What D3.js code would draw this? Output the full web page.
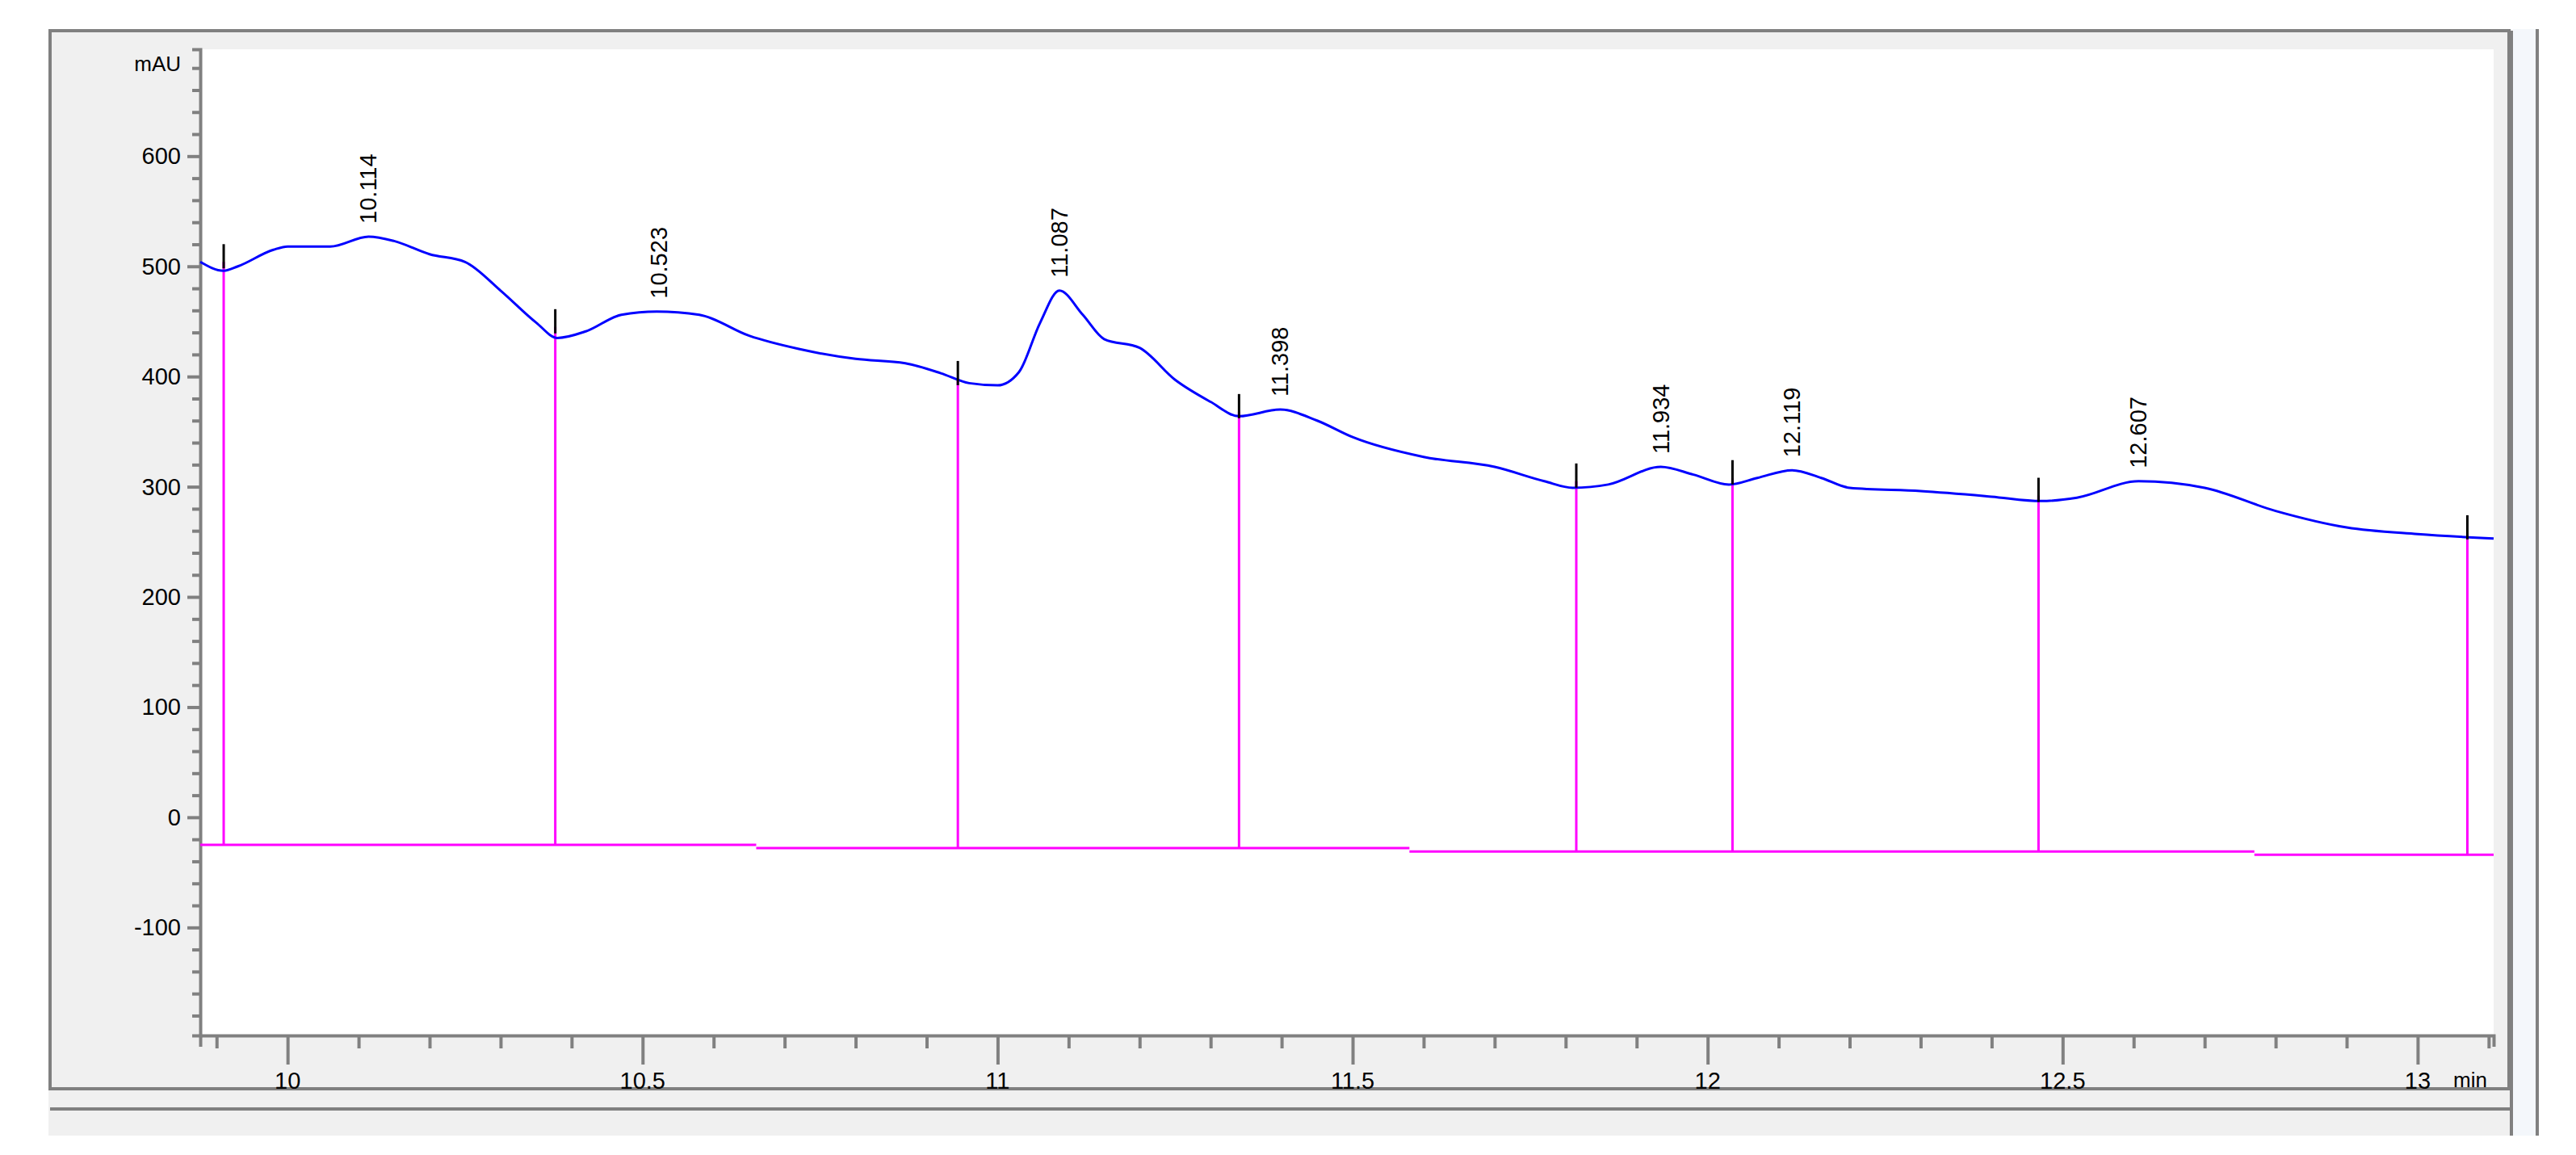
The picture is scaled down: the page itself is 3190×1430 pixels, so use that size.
<!DOCTYPE html>
<html><head><meta charset="utf-8">
<script src="https://cdn.jsdelivr.net/npm/d3@7"></script>
<style>body{margin:0;background:#fff}svg text{font-family:"Liberation Sans",Arial,sans-serif}</style>
</head><body><svg id="chart"></svg>
<script>
// signal trace (min, mAU)
const traceTime = [9.877,9.91,9.93,9.98,10.0,10.06,10.114,10.15,10.2,10.25,10.3,10.35,10.38,10.42,10.47,10.52,10.58,10.65,10.72,10.8,10.87,10.92,10.96,11.0,11.03,11.06,11.087,11.12,11.15,11.2,11.25,11.3,11.34,11.398,11.45,11.5,11.6,11.7,11.77,11.81,11.86,11.934,11.98,12.03,12.07,12.119,12.16,12.2,12.3,12.4,12.47,12.52,12.607,12.7,12.8,12.9,13.0,13.107];
const traceMAU = [504,496,500,515,518,518,527,523,511,504,478,449,435,441,456,459,456,437,425,416,412,403,394,392,404,449,478,456,434,426,397,377,364,370,360,345,327,318,305,299,302,318,311,302,308,315,308,299,296,291,287,290,305,299,278,263,257,253];
const peakLabels = ["10.114","10.523","11.087","11.398","11.934","12.119","12.607"];
const peakTimes = [10.114,10.523,11.087,11.398,11.934,12.119,12.607];
const peakHeights = [527,459,478,370,318,315,305];
// integration boundaries
const dropTimes = [9.91,10.377,10.944,11.34,11.815,12.035,12.466,13.07];
const dropTops = [504,445,398,368,305,308,292,258];
// baseline segments [start, end, mAU]
const baseStart = [9.877,10.66,11.58,12.77];
const baseEnd = [10.66,11.58,12.77,13.107];
const baseLevel = [-25,-28,-31,-34];
const xTicks = [10,10.5,11,11.5,12,12.5,13];
const yTicks = [-100,0,100,200,300,400,500,600];

const W = 3190, H = 1430;
const svg = d3.select('#chart').attr('width', W).attr('height', H);
const L = 248, R = 3088, T = 61, B = 1282;

// window chrome
svg.append('rect').attr('x', 60).attr('y', 36).attr('width', 3050).attr('height', 1370).attr('fill', '#f0f0f0');
svg.append('rect').attr('x', 62).attr('y', 38).attr('width', 3045).attr('height', 1310).attr('fill', 'none').attr('stroke', '#808080').attr('stroke-width', 4);
svg.append('line').attr('x1', 62).attr('x2', 3110).attr('y1', 1373).attr('y2', 1373).attr('stroke', '#808080').attr('stroke-width', 4);
svg.append('line').attr('x1', 3110).attr('x2', 3110).attr('y1', 38).attr('y2', 1406).attr('stroke', '#808080').attr('stroke-width', 4);
svg.append('rect').attr('x', 3112).attr('y', 36).attr('width', 28).attr('height', 1370).attr('fill', '#f4f7fb');
svg.append('line').attr('x1', 3142).attr('x2', 3142).attr('y1', 36).attr('y2', 1406).attr('stroke', '#808080').attr('stroke-width', 4);
svg.append('rect').attr('x', L).attr('y', T).attr('width', R - L).attr('height', B - T).attr('fill', '#fff');

const x = d3.scaleLinear().domain([9.877, 13.107]).range([L, R]);
const y = d3.scaleLinear().domain([-198, 697]).range([B, T]);

// y axis
const yAxis = svg.append('g').attr('transform', `translate(${L},0)`)
  .call(d3.axisLeft(y).tickValues(d3.range(-180, 700, 20)).tickSize(10).tickFormat(''));
yAxis.selectAll('line').attr('stroke', '#808080').attr('stroke-width', 4)
  .attr('x2', d => yTicks.includes(Math.round(d)) ? -16 : -10);
yAxis.select('.domain').attr('stroke', '#808080').attr('stroke-width', 4);
svg.append('g').selectAll('text').data(yTicks).join('text')
  .attr('x', L - 24).attr('y', d => y(d) + 10).attr('text-anchor', 'end')
  .attr('font-size', 29).attr('fill', '#000').text(d => d);
svg.append('text').attr('x', L - 24).attr('y', 88).attr('text-anchor', 'end').attr('font-size', 26).text('mAU');

// x axis
const xAxis = svg.append('g').attr('transform', `translate(0,${B})`)
  .call(d3.axisBottom(x).tickValues(d3.range(9.9, 13.11, 0.1)).tickSize(14).tickFormat(''));
xAxis.selectAll('line').attr('stroke', '#808080').attr('stroke-width', 4)
  .attr('y2', d => xTicks.some(t => Math.abs(t - d) < 1e-6) ? 36 : 16);
xAxis.select('.domain').attr('stroke', '#808080').attr('stroke-width', 4);
svg.append('g').selectAll('text').data(xTicks).join('text')
  .attr('x', d => x(d)).attr('y', B + 66).attr('text-anchor', 'middle')
  .attr('font-size', 29).text(d => d);
svg.append('text').attr('x', R - 8).attr('y', B + 64).attr('text-anchor', 'end').attr('font-size', 26).text('min');

// baseline and drop lines
svg.append('g').selectAll('line').data(baseLevel).join('line')
  .attr('x1', (d, i) => x(baseStart[i])).attr('x2', (d, i) => x(baseEnd[i]))
  .attr('y1', d => y(d)).attr('y2', d => y(d)).attr('stroke', '#ff00ff').attr('stroke-width', 3);
svg.append('g').selectAll('line').data(dropTimes).join('line')
  .attr('x1', d => x(d)).attr('x2', d => x(d))
  .attr('y1', (d, i) => y(dropTops[i])).attr('y2', d => y(baseLevel[baseEnd.findIndex(e => d <= e)]))
  .attr('stroke', '#ff00ff').attr('stroke-width', 3);

// trace
svg.append('path').datum(traceTime.map((t, i) => [t, traceMAU[i]]))
  .attr('d', d3.line().x(d => x(d[0])).y(d => y(d[1])).curve(d3.curveMonotoneX))
  .attr('fill', 'none').attr('stroke', '#0000ff').attr('stroke-width', 3);

// boundary tick marks
svg.append('g').selectAll('line').data(dropTimes).join('line')
  .attr('x1', d => x(d)).attr('x2', d => x(d))
  .attr('y1', (d, i) => y(dropTops[i]) - 22).attr('y2', (d, i) => y(dropTops[i]) + 8)
  .attr('stroke', '#000').attr('stroke-width', 3);

// peak labels
svg.append('g').selectAll('text').data(peakLabels).join('text')
  .attr('transform', (d, i) => `translate(${x(peakTimes[i]) + 10},${y(peakHeights[i]) - 16}) rotate(-90)`)
  .attr('font-size', 29).attr('fill', '#000').text(d => d);
</script></body></html>
